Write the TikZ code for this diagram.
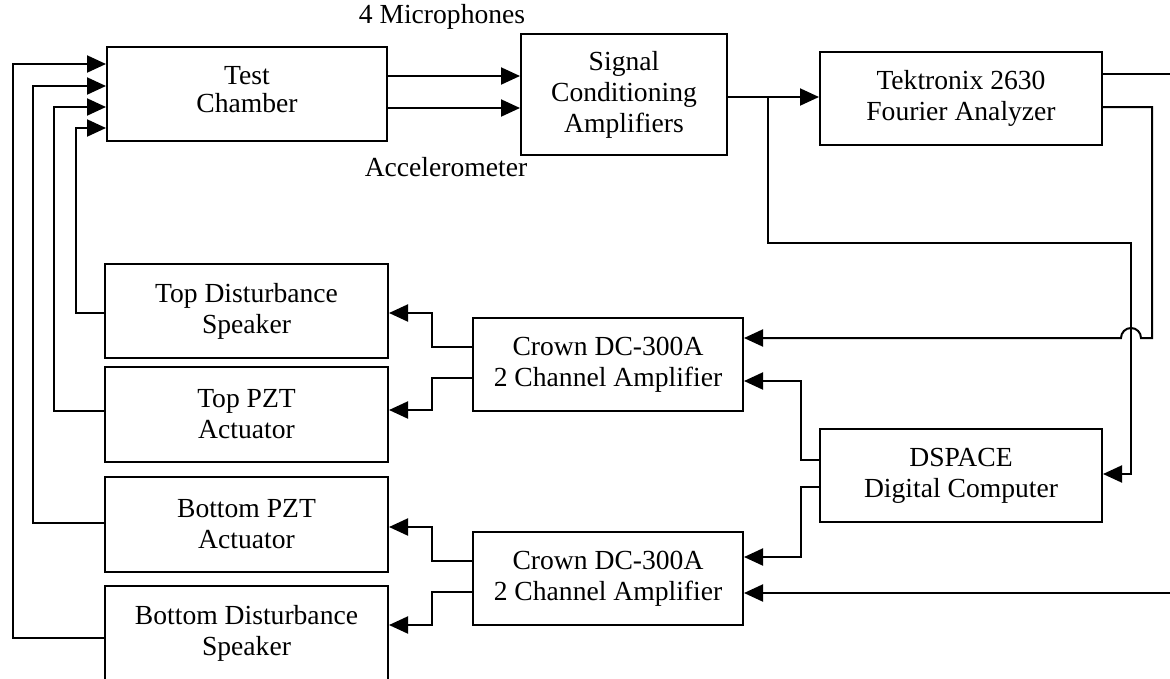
\documentclass[tikz,border=0pt]{standalone}
\usepackage{fontspec}
\setmainfont{Liberation Serif}
\usetikzlibrary{arrows.meta}
\tikzset{
  box/.style={draw, line width=2pt, inner sep=0pt, align=center,
    font=\fontsize{27.6}{31}\selectfont},
  lbl/.style={inner sep=0pt, font=\fontsize{27.6}{31}\selectfont},
  wire/.style={line width=2pt},
  arr/.style={wire, -{Triangle[length=19pt,width=17pt]}}
}
\begin{document}
\begin{tikzpicture}[x=1pt,y=-1pt]
\useasboundingbox (0,0) rectangle (1170,678);
\clip (0,0) rectangle (1170,678);
% boxes
\node[box, minimum width=280pt, minimum height=94pt, font=\fontsize{27.6}{28}\selectfont] (tc) at (247,94) {Test\\Chamber\\[-18pt]\mbox{}};
\node[box, minimum width=206pt, minimum height=121pt] (sc) at (624,94.5) {Signal\\Conditioning\\Amplifiers};
\node[box, minimum width=282pt, minimum height=93pt] (tk) at (961,98.5) {Tektronix 2630\\Fourier Analyzer};
\node[box, minimum width=283pt, minimum height=94pt] (td) at (246.5,311) {Top Disturbance\\Speaker};
\node[box, minimum width=283pt, minimum height=95pt] (tp) at (246.5,414.5) {Top PZT\\Actuator};
\node[box, minimum width=283pt, minimum height=95pt] (bp) at (246.5,524.5) {Bottom PZT\\Actuator};
\node[box, minimum width=283pt, minimum height=94pt] (bd) at (246.5,633) {Bottom Disturbance\\Speaker};
\node[box, minimum width=270pt, minimum height=93pt] (cu) at (608,364.5) {Crown DC-300A\\2 Channel Amplifier};
\node[box, minimum width=270pt, minimum height=93pt] (cl) at (608,578.5) {Crown DC-300A\\2 Channel Amplifier};
\node[box, minimum width=282pt, minimum height=93pt] (ds) at (961,475.5) {DSPACE\\Digital Computer};
% labels
\node[lbl] (mic) at (442,17) {4 Microphones};
\node[lbl] (acc) at (446,167) {Accelerometer};
% free ends
\coordinate (tap) at (768,97);
\coordinate (edgeA) at (1170,74);
\coordinate (edgeB) at (1170,593);
% test chamber to signal conditioning
\draw[arr] (tc.east |- 0,76) -- (sc.west |- 0,76);
\draw[arr] (tc.east |- 0,108) -- (sc.west |- 0,108);
% signal conditioning to Tektronix
\draw[arr] (sc.east |- 0,97) -- (tk.west |- 0,97);
% tap to DSPACE
\draw[arr] (tap) |- (1131,243) |- (ds.east |- 0,474);
% Tektronix outputs
\draw[wire] (tk.east |- 0,74) -- (edgeA);
\draw[arr] (tk.east |- 0,107) -| (1152,338) -- (1141,338)
  arc[start angle=0, end angle=180, radius=10pt] -- (cu.east |- 0,338);
% DSPACE to amplifiers
\draw[arr] (ds.west |- 0,460) -- (801,460) |- (cu.east |- 0,381);
\draw[arr] (ds.west |- 0,487) -- (801,487) |- (cl.east |- 0,557);
\draw[arr] (edgeB) -- (cl.east |- 0,593);
% amplifiers to actuators
\draw[arr] (cu.west |- 0,347) -- (432,347) |- (td.east |- 0,313);
\draw[arr] (cu.west |- 0,378) -- (432,378) |- (tp.east |- 0,410);
\draw[arr] (cl.west |- 0,561) -- (432,561) |- (bp.east |- 0,527);
\draw[arr] (cl.west |- 0,592) -- (432,592) |- (bd.east |- 0,625);
% actuators to test chamber
\draw[arr] (td.west |- 0,313) -| (76,128) -- (tc.west |- 0,128);
\draw[arr] (tp.west |- 0,411) -| (54,107) -- (tc.west |- 0,107);
\draw[arr] (bp.west |- 0,523) -| (33,86) -- (tc.west |- 0,86);
\draw[arr] (bd.west |- 0,638) -| (13,64) -- (tc.west |- 0,64);
\end{tikzpicture}
\end{document}
